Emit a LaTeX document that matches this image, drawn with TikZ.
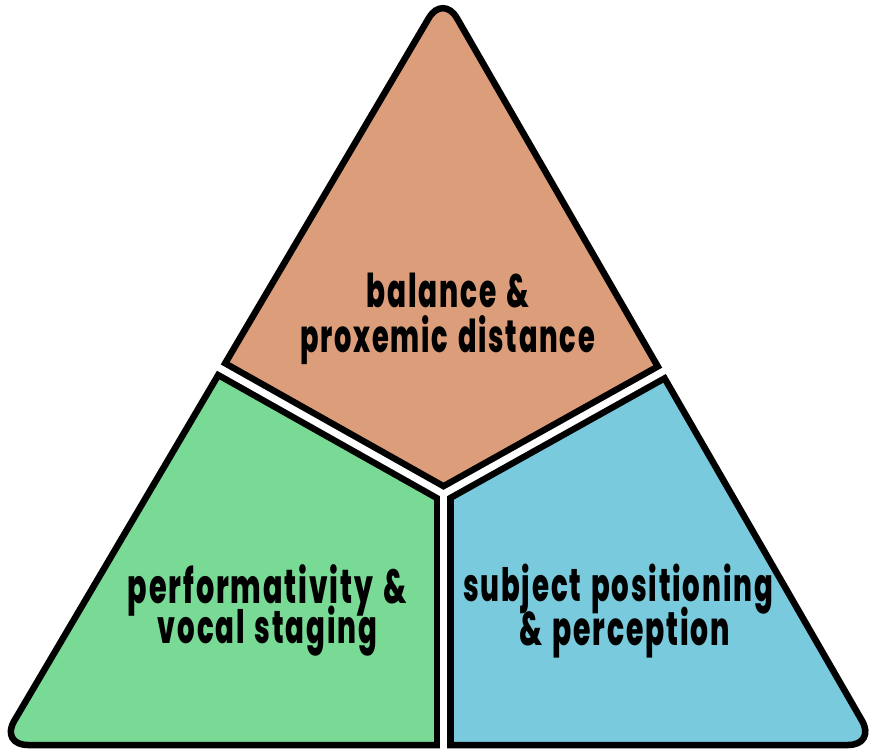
\documentclass[tikz,border=0pt]{standalone}
\usepackage{fontspec}
\usetikzlibrary{calc}
\newfontfamily\labfont{Poppins}[BoldFont={Poppins ExtraBold}, FakeStretch=0.6, LetterSpace=4, WordSpace=1.4]
\definecolor{orng}{HTML}{DC9D7B}
\definecolor{grn}{HTML}{79DA96}
\definecolor{blu}{HTML}{78CADC}
\begin{document}
\begin{tikzpicture}[x=1pt,y=-1pt,
  lab/.style={anchor=base, inner sep=0pt, font=\labfont\bfseries},
  outline/.style={line width=6.5pt, rounded corners=28pt},
  blackband/.style={black, line width=20pt, line join=miter},
  whiteband/.style={white, line width=7pt, line join=miter}]
\useasboundingbox (0,0) rectangle (869,749);
\coordinate (A) at (443,-6);
\coordinate (BL) at (0,745);
\coordinate (BR) at (876,745);
\coordinate (M) at (440,745);
\coordinate (L) at (220.5,368.5);
\coordinate (R) at (665.5,370);
\coordinate (O) at (443.5,494);
\coordinate (B) at (443.5,770);
\coordinate (L2) at ($(O)!1.15!(L)$);
\coordinate (R2) at ($(O)!1.15!(R)$);
\begin{scope}
  \clip[rounded corners=28pt] (M) -- (BL) -- (A) -- (BR) -- cycle;
  \fill[orng] (L) -- (O) -- (R) -- (900,370) -- (900,-20) -- (-20,-20) -- (-20,368.5) -- cycle;
  \fill[grn] (-20,368.5) -- (L) -- (O) -- (B) -- (-20,770) -- cycle;
  \fill[blu] (900,370) -- (R) -- (O) -- (B) -- (900,770) -- cycle;
  \draw[blackband] (L2) -- (O) -- (R2);
  \draw[blackband] (O) -- (B);
\end{scope}
\draw[outline] (M) -- (BL) -- (A) -- (BR) -- cycle;
\draw[whiteband] (L2) -- (O) -- (R2);
\draw[whiteband] (O) -- (B);
\node[lab] (t1) at (448,307) {\resizebox{163pt}{!}{balance \&}};
\node[lab] (t2) at (447.5,352) {\resizebox{295pt}{!}{proxemic distance}};
\node[lab] (t3) at (267.5,603) {\resizebox{279pt}{!}{performativity \&}};
\node[lab] (t4) at (267.5,643) {\resizebox{219pt}{!}{vocal staging}};
\node[lab] (t5) at (618,601) {\resizebox{310pt}{!}{subject positioning}};
\node[lab] (t6) at (624.5,645) {\resizebox{211pt}{!}{\& perception}};
\end{tikzpicture}
\end{document}
